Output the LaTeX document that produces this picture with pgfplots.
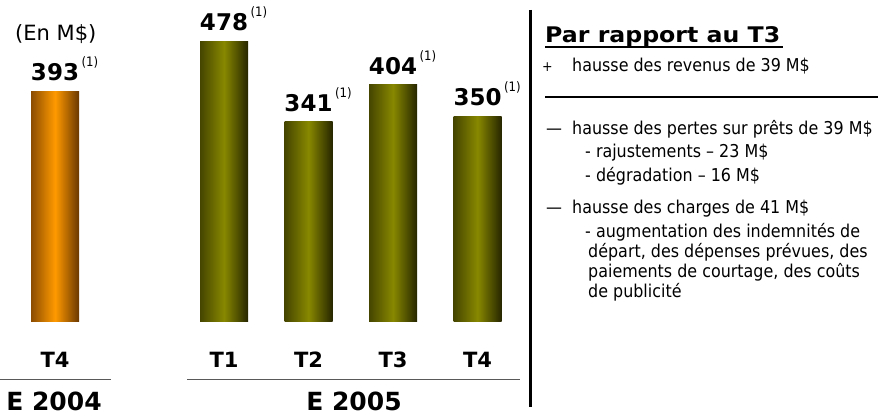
\documentclass[border=0pt]{standalone}
\usepackage{fontspec}
\setmainfont{DejaVu Sans}
\newfontfamily\tah{DejaVu Sans}[FakeStretch=0.9]
\newfontfamily\ttl{DejaVu Sans}[FakeStretch=1.1]
\usepackage{pgfplots}
\pgfplotsset{compat=1.18}
\definecolor{orL}{HTML}{8B4C00}
\definecolor{orMid}{HTML}{FF9A00}
\definecolor{orR}{HTML}{6A3800}
\definecolor{olL}{HTML}{454500}
\definecolor{olMid}{HTML}{888800}
\definecolor{olR}{HTML}{262600}
\newcommand{\supone}{\hspace{2.5pt}\raisebox{14pt}{\mdseries\tah\fontsize{13}{13}\selectfont (1)}}
\newcommand{\rt}{\tah\fontsize{17.7}{20}\selectfont}
\pgfplotsset{
  orbar/.style={draw=none, left color=orL, right color=orR, middle color=orMid},
  olbar/.style={draw=none, left color=olL, right color=olR, middle color=olMid}}
\begin{document}
\begin{tikzpicture}
\useasboundingbox (0,0) rectangle (878pt,416pt);
\begin{axis}[at={(0,0)}, anchor=south west, scale only axis,
  width=878pt, height=416pt, xmin=0, xmax=878, ymin=-162.39, ymax=548.72,
  hide axis, clip=false,
  /pgf/number format/assume math mode=true]
% shaded bars: x = centre -/+ 24 (bar width 48)
\addplot[orbar] coordinates {(31,0) (31,393) (79,393) (79,0)};
\addplot[olbar] coordinates {(200,0) (200,478) (248,478) (248,0)};
\addplot[olbar] coordinates {(284.5,0) (284.5,341) (332.5,341) (332.5,0)};
\addplot[olbar] coordinates {(369,0) (369,404) (417,404) (417,0)};
\addplot[olbar] coordinates {(453.5,0) (453.5,350) (501.5,350) (501.5,0)};
% value labels
\addplot[ybar, bar shift=0pt, bar width=48pt, draw=none, fill=none,
  nodes near coords={\fontsize{23}{23}\selectfont\bfseries\pgfmathprintnumber{\pgfplotspointmeta}\rlap{\supone}},
  every node near coord/.append style={anchor=base, yshift=10.5pt, inner sep=0pt, text=black}]
  coordinates {(55,393) (224,478) (308.5,341) (393,404) (477.5,350)};
\end{axis}
\begin{scope}[x=1pt, y=-1pt, shift={(0pt,416pt)}]
\node[anchor=base west, inner sep=0pt] at (15,41) {\fontsize{21}{21}\selectfont (En M\$)};
\foreach \xx/\tt in {55/T4, 224/T1, 308.5/T2, 393/T3, 477.5/T4}
  \node[anchor=base, inner sep=0pt] at (\xx,367) {\fontsize{21}{21}\selectfont\bfseries \tt};
\draw[line width=1.5pt, black!65] (0,379.5) -- (111,379.5);
\draw[line width=1.5pt, black!65] (187,379.5) -- (520,379.5);
\node[anchor=base, inner sep=0pt] at (54,410) {\fontsize{25}{25}\selectfont\bfseries E 2004};
\node[anchor=base, inner sep=0pt] at (354,410) {\fontsize{25}{25}\selectfont\bfseries E 2005};
\draw[line width=3pt] (530,10) -- (530,407);
\node[anchor=base west, inner sep=0pt] at (545,43) {\ttl\bfseries\fontsize{21.5}{24}\selectfont Par rapport au T3};
\draw[line width=2pt] (545,47) -- (783,47);
\node[anchor=base west, inner sep=0pt] at (542,72) {\tah\fontsize{14}{16}\selectfont +};
\node[anchor=base west, inner sep=0pt] at (572,72) {\rt hausse des revenus de 39 M\$};
\draw[line width=1.2pt] (545,97) -- (878,97);
\node[anchor=base west, inner sep=0pt] at (546,134) {\rt —};
\node[anchor=base west, inner sep=0pt] at (572,134) {\rt hausse des pertes sur prêts de 39 M\$};
\node[anchor=base west, inner sep=0pt] at (585,157) {\rt - rajustements – 23 M\$};
\node[anchor=base west, inner sep=0pt] at (585,181) {\rt - dégradation – 16 M\$};
\node[anchor=base west, inner sep=0pt] at (546,213) {\rt —};
\node[anchor=base west, inner sep=0pt] at (572,213) {\rt hausse des charges de 41 M\$};
\node[anchor=base west, inner sep=0pt] at (585,237) {\rt - augmentation des indemnités de};
\node[anchor=base west, inner sep=0pt] at (588,257) {\rt départ, des dépenses prévues, des};
\node[anchor=base west, inner sep=0pt] at (588,277) {\rt paiements de courtage, des coûts};
\node[anchor=base west, inner sep=0pt] at (588,297) {\rt de publicité};
\end{scope}
\end{tikzpicture}
\end{document}
